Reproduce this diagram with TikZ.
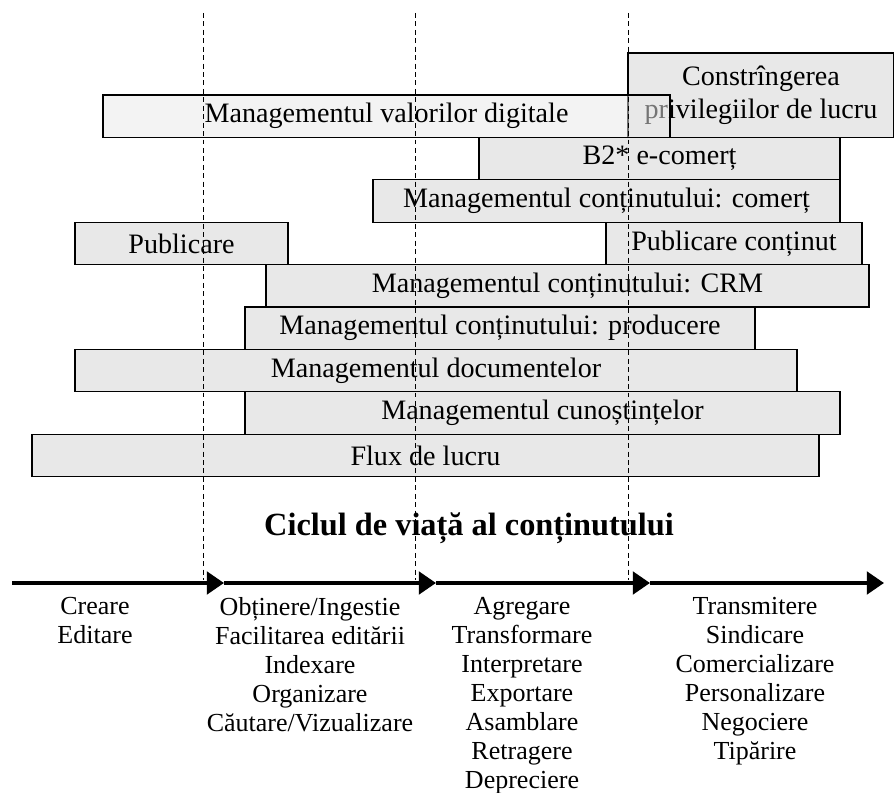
\documentclass[tikz,border=0pt]{standalone}
\usepackage{fontspec}
\setmainfont{Liberation Serif}
\usetikzlibrary{arrows.meta}
\definecolor{barfill}{HTML}{E8E8E8}

\begin{document}
\begin{tikzpicture}[
  bar/.style={draw,line width=0.9pt,fill=barfill,minimum height=1.06cm,inner sep=0pt,font=\fontsize{20}{23}\selectfont},
  cut/.style={line width=0.7pt,dash pattern=on 3.5pt off 2.5pt},
  phase/.style={line width=2.8pt,-{Triangle[length=4.3mm,width=5.6mm]}},
  stage/.style={anchor=north,align=center,inner sep=0pt,font=\fontsize{18.5}{20.6}\selectfont}
]
\useasboundingbox (0,0) rectangle (22.35,19.8);
\draw (19.025,17.42) node[bar,minimum width=6.65cm,minimum height=2.11cm,align=center](constr) {Constrîngerea\\privilegiilor de lucru};
\draw (9.6625,16.895) node[bar,minimum width=14.175cm,fill opacity=0.5,text opacity=1](valori) {Managementul valorilor digitale};
\draw (16.4875,15.835) node[bar,minimum width=9.025cm](ecomert) {B2* e-comerț};
\draw (15.1625,14.775) node[bar,minimum width=11.675cm](comert) {Managementul conținutului: comerț};
\draw (4.5375,13.715) node[bar,minimum width=5.325cm](publicare) {Publicare};
\draw (18.35,13.715) node[bar,minimum width=6.4cm](pubcontinut) {Publicare conținut};
\draw (14.1875,12.655) node[bar,minimum width=15.075cm](crm) {Managementul conținutului: CRM};
\draw (12.5,11.595) node[bar,minimum width=12.75cm](producere) {Managementul conținutului: producere};
\draw (10.9,10.535) node[bar,minimum width=18.05cm](documente) {Managementul documentelor};
\draw (13.5625,9.475) node[bar,minimum width=14.875cm](cunostinte) {Managementul cunoștințelor};
\draw (10.6375,8.415) node[bar,minimum width=19.675cm](flux) {Flux de lucru};

\coordinate (cutonetop) at (5.075,19.475);
\coordinate (cutonebot) at (5.075,5.3);
\coordinate (cuttwotop) at (10.375,19.475);
\coordinate (cuttwobot) at (10.375,5.3);
\coordinate (cutthreetop) at (15.7,19.475);
\coordinate (cutthreebot) at (15.7,5.3);
\draw[cut] (cutonetop) -- (cutonebot);
\draw[cut] (cuttwotop) -- (cuttwobot);
\draw[cut] (cutthreetop) -- (cutthreebot);

\draw (11.725,6.6) node[font=\fontsize{23}{26}\selectfont\bfseries](ciclu) {Ciclul de viață al conținutului};

\coordinate (start) at (0.3,5.225);
\coordinate (endone) at (5.6,5.225);
\coordinate (endtwo) at (10.9,5.225);
\coordinate (endthree) at (16.25,5.225);
\coordinate (endfour) at (22.1,5.225);
\draw[phase] (start) -- (endone);
\draw[phase] (endone) -- (endtwo);
\draw[phase] (endtwo) -- (endthree);
\draw[phase] (endthree) -- (endfour);

\draw (2.375,4.875) node[stage](creare) {Creare\\Editare};
\draw (7.75,4.875) node[stage](obtinere) {Obținere/Ingestie\\Facilitarea editării\\Indexare\\Organizare\\Căutare/Vizualizare};
\draw (13.05,4.875) node[stage](agregare) {Agregare\\Transformare\\Interpretare\\Exportare\\Asamblare\\Retragere\\Depreciere};
\draw (18.875,4.875) node[stage](transmitere) {Transmitere\\Sindicare\\Comercializare\\Personalizare\\Negociere\\Tipărire};
\end{tikzpicture}
\end{document}
